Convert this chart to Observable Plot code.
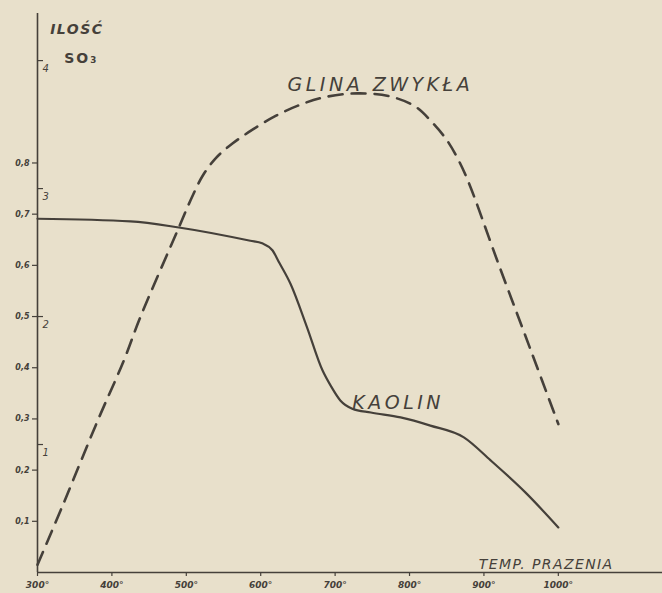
<!DOCTYPE html>
<html>
<head>
<meta charset="utf-8">
<script src="https://cdn.jsdelivr.net/npm/d3@7"></script>
<script src="https://cdn.jsdelivr.net/npm/@observablehq/plot@0.6"></script>
<style>
  html, body { margin: 0; padding: 0; background: #e8e0cb; }
  #chart { width: 662px; height: 593px; overflow: hidden; }
</style>
</head>
<body>
<div id="chart"></div>
<script>
// Kaolin (solid line)
const kaolinTemp = [300, 425, 490, 586, 602, 616, 625, 640, 662, 683, 694, 707, 723, 748, 788, 828, 873, 909, 956, 1000];
const kaolinSO3  = [0.691, 0.686, 0.674, 0.648, 0.643, 0.629, 0.605, 0.564, 0.480, 0.395, 0.365, 0.336, 0.320, 0.3125, 0.303, 0.287, 0.264, 0.219, 0.156, 0.088];

// Glina zwykła (dashed line)
const glinaTemp = [300, 335, 381, 416, 438, 490, 506, 522, 540, 562, 590, 620, 650, 684, 730, 774, 808, 830, 850, 866, 880, 918, 963, 1000];
const glinaSO3  = [0.015, 0.135, 0.297, 0.414, 0.498, 0.674, 0.728, 0.775, 0.810, 0.838, 0.866, 0.892, 0.912, 0.928, 0.936, 0.930, 0.910, 0.880, 0.845, 0.805, 0.760, 0.609, 0.434, 0.290];

// Axis ticks
const xTicks = [300, 400, 500, 600, 700, 800, 900, 1000];
const xTickLabels = ["300°", "400°", "500°", "600°", "700°", "800°", "900°", "1000°"];
const leftTicks = [0.1, 0.2, 0.3, 0.4, 0.5, 0.6, 0.7, 0.8];
const leftTickLabels = ["0,1", "0,2", "0,3", "0,4", "0,5", "0,6", "0,7", "0,8"];
const innerTicks = [0.25, 0.5, 0.75, 1.0];
const innerTickLabels = ["1", "2", "3", "4"];

// Text labels
const seriesLabels = ["GLINA ZWYKŁA", "KAOLIN"];
const seriesLabelTemp = [636, 723];
const seriesLabelSO3 = [0.941, 0.320];
const xTitle = "TEMP. PRAZENIA";
const yTitle = ["ILOŚĆ", "SO₃"];

const kaolin = kaolinTemp.map((t, i) => ({t, v: kaolinSO3[i]}));
const glina = glinaTemp.map((t, i) => ({t, v: glinaSO3[i]}));
const seriesLabelData = seriesLabels.map((s, i) => ({s, t: seriesLabelTemp[i], v: seriesLabelSO3[i]}));

const ink = "#45403a";
const fontHand = "DejaVu Sans";

const chart = Plot.plot({
  width: 662,
  height: 593,
  marginLeft: 37,
  marginRight: 0,
  marginTop: 13,
  marginBottom: 21,
  x: {domain: [300, 1140], axis: null},
  y: {domain: [0, 1.092], axis: null},
  style: {background: "#e8e0cb", color: ink, fontFamily: fontHand},
  marks: [
    Plot.ruleX([300], {stroke: ink, strokeWidth: 1.6}),
    Plot.ruleY([0], {stroke: ink, strokeWidth: 1.6}),
    Plot.axisY({
      ticks: leftTicks, tickSize: 5, tickPadding: 3, label: null,
      tickFormat: (d) => leftTickLabels[leftTicks.indexOf(d)],
      fontSize: 8, fontStyle: "italic", fontWeight: "bold", stroke: ink, strokeWidth: 1.2, fill: ink
    }),
    Plot.axisY({
      ticks: innerTicks, tickSize: -6, text: null, label: null, stroke: ink, strokeWidth: 1.2
    }),
    Plot.axisY({
      ticks: innerTicks, tickSize: 0, tickPadding: -5, textAnchor: "start", dy: 8, label: null,
      tickFormat: (d) => innerTickLabels[innerTicks.indexOf(d)],
      fontSize: 10, fontStyle: "italic", fill: ink
    }),
    Plot.axisX({
      ticks: xTicks, tickSize: 4, tickPadding: 5, label: null,
      tickFormat: (d) => xTickLabels[xTicks.indexOf(d)],
      fontSize: 9, fontStyle: "italic", fontWeight: "bold", stroke: ink, strokeWidth: 1.2, fill: ink
    }),
    Plot.line(glina, {
      x: "t", y: "v", curve: "catmull-rom",
      stroke: ink, strokeWidth: 2.6, strokeDasharray: "14,9"
    }),
    Plot.line(kaolin, {
      x: "t", y: "v", curve: "monotone-x",
      stroke: ink, strokeWidth: 2.2
    }),
    Plot.text(seriesLabelData, {
      x: "t", y: "v", text: "s", textAnchor: "start", lineAnchor: "bottom",
      fontSize: 19, fontStyle: "italic", fill: ink
    }),
    Plot.text([xTitle], {
      x: 893, y: 0, text: (d) => d, textAnchor: "start", lineAnchor: "bottom", dy: -4,
      fontSize: 14, fontStyle: "italic", fill: ink
    }),
    Plot.text([yTitle[0]], {
      x: 317, y: 1.051, text: (d) => d, textAnchor: "start", lineAnchor: "bottom",
      fontSize: 14, fontStyle: "italic", fontWeight: "bold", fill: ink
    }),
    Plot.text([yTitle[1]], {
      x: 336, y: 0.996, text: (d) => d, textAnchor: "start", lineAnchor: "bottom",
      fontSize: 14, fontWeight: "bold", fill: ink
    })
  ]
});

// letter spacing for hand-lettered labels
chart.querySelectorAll("text").forEach((t) => {
  const s = t.textContent;
  if (s === "GLINA ZWYKŁA" || s === "KAOLIN") t.setAttribute("letter-spacing", "3.5");
  if (s === xTitle) t.setAttribute("letter-spacing", "1.4");
  if (s === "ILOŚĆ") t.setAttribute("letter-spacing", "1.5");
  if (s === "SO₃") t.setAttribute("letter-spacing", "2");
});

document.getElementById("chart").append(chart);
</script>
</body>
</html>
